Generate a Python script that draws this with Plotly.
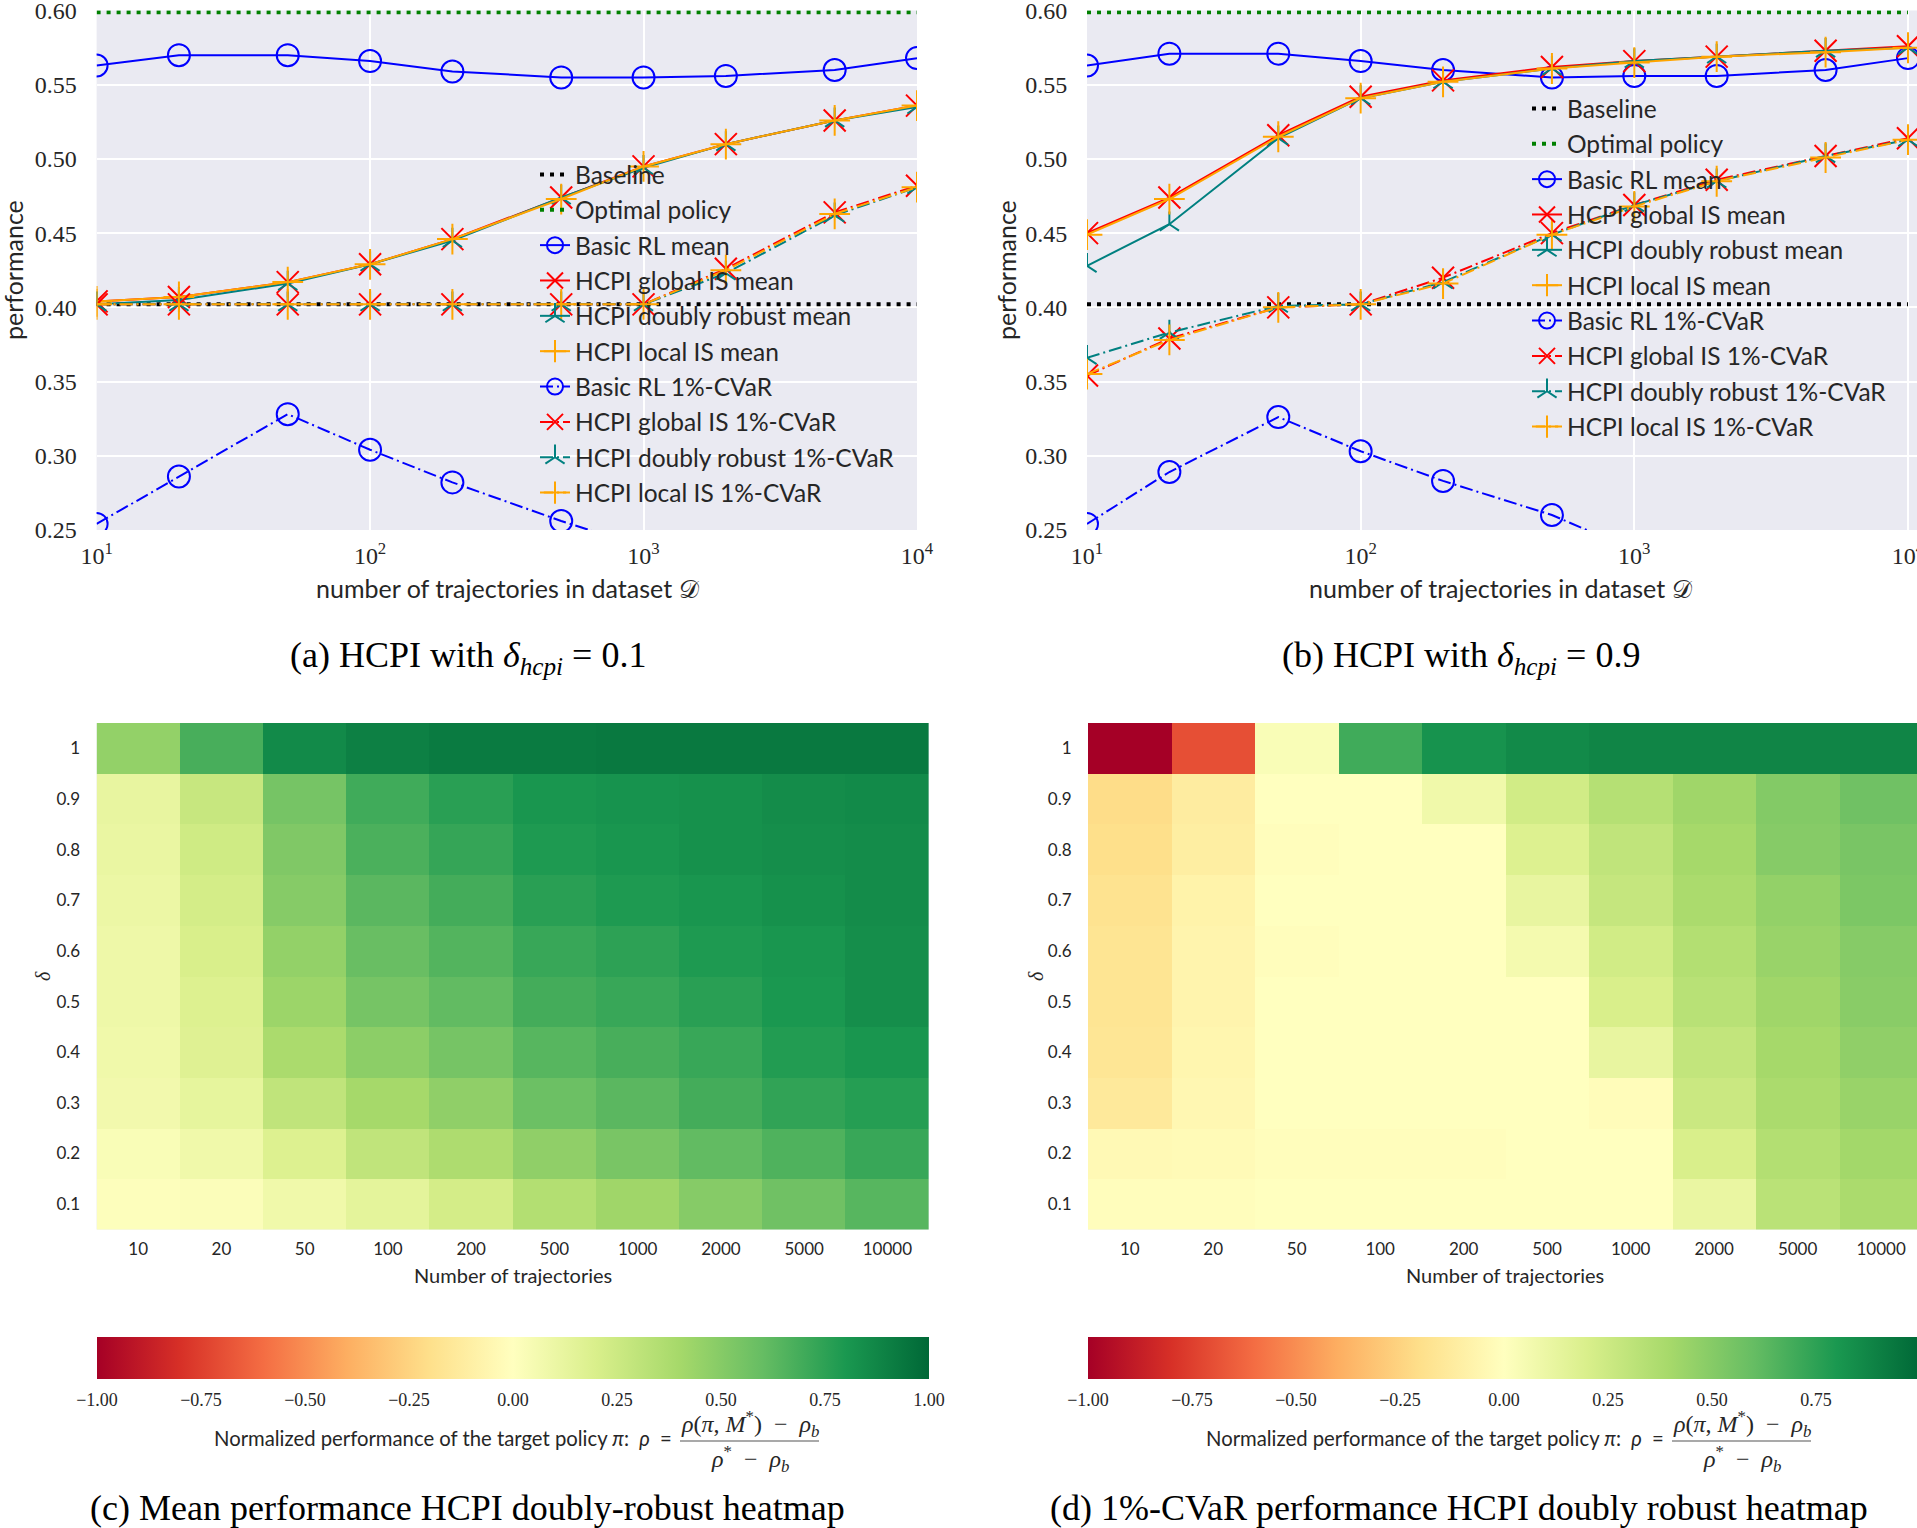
import plotly.graph_objects as go

W, H = 1917, 1528


def fx(p):
    return p / W


def fy(p):
    return 1 - p / H


# ---------------- data ----------------
N = [10, 20, 50, 100, 200, 500, 1000, 2000, 5000, 10000]
N_LABELS = ["10", "20", "50", "100", "200", "500", "1000", "2000", "5000", "10000"]
DELTAS = ["1", "0.9", "0.8", "0.7", "0.6", "0.5", "0.4", "0.3", "0.2", "0.1"]
BASELINE = 0.402
OPTIMAL = 0.599

# panel (a): delta_hcpi = 0.1
a_basic_mean = [0.563, 0.570, 0.570, 0.566, 0.559, 0.555, 0.555, 0.556, 0.560, 0.568]
a_global_mean = [0.404, 0.407, 0.417, 0.429, 0.446, 0.474, 0.495, 0.510, 0.526, 0.536]
a_dr_mean = [0.402, 0.405, 0.416, 0.429, 0.445, 0.474, 0.494, 0.510, 0.526, 0.535]
a_local_mean = [0.404, 0.407, 0.417, 0.429, 0.446, 0.473, 0.495, 0.510, 0.526, 0.536]
a_basic_cvar = [0.254, 0.286, 0.328, 0.304, 0.282, 0.256, 0.238, 0.222, 0.205, 0.195]
a_global_cvar = [0.402, 0.402, 0.402, 0.402, 0.402, 0.402, 0.402, 0.426, 0.464, 0.482]
a_dr_cvar = [0.402, 0.402, 0.402, 0.402, 0.402, 0.402, 0.402, 0.423, 0.462, 0.481]
a_local_cvar = [0.402, 0.402, 0.402, 0.402, 0.402, 0.402, 0.402, 0.425, 0.463, 0.481]

# panel (b): delta_hcpi = 0.9
b_basic_mean = [0.563, 0.571, 0.571, 0.566, 0.560, 0.555, 0.556, 0.556, 0.560, 0.568]
b_global_mean = [0.450, 0.474, 0.516, 0.542, 0.553, 0.562, 0.566, 0.569, 0.573, 0.576]
b_dr_mean = [0.428, 0.456, 0.514, 0.541, 0.552, 0.561, 0.566, 0.569, 0.573, 0.575]
b_local_mean = [0.449, 0.473, 0.515, 0.541, 0.552, 0.561, 0.565, 0.569, 0.572, 0.575]
b_basic_cvar = [0.254, 0.289, 0.326, 0.303, 0.283, 0.260, 0.236, 0.222, 0.205, 0.195]
b_global_cvar = [0.354, 0.379, 0.400, 0.402, 0.420, 0.450, 0.469, 0.486, 0.502, 0.514]
b_dr_cvar = [0.366, 0.383, 0.401, 0.402, 0.417, 0.449, 0.469, 0.485, 0.502, 0.513]
b_local_cvar = [0.355, 0.378, 0.400, 0.402, 0.416, 0.449, 0.468, 0.485, 0.501, 0.513]

# panel (c): mean performance, rows delta = 1 ... 0.1
c_mean = [
    [0.46, 0.68, 0.86, 0.90, 0.92, 0.92, 0.93, 0.93, 0.93, 0.93],
    [0.12, 0.27, 0.55, 0.70, 0.76, 0.81, 0.82, 0.83, 0.85, 0.86],
    [0.11, 0.24, 0.52, 0.67, 0.73, 0.79, 0.81, 0.83, 0.84, 0.85],
    [0.10, 0.22, 0.50, 0.63, 0.69, 0.76, 0.79, 0.81, 0.83, 0.85],
    [0.09, 0.20, 0.46, 0.59, 0.65, 0.72, 0.75, 0.79, 0.81, 0.84],
    [0.09, 0.18, 0.43, 0.55, 0.61, 0.69, 0.72, 0.76, 0.80, 0.84],
    [0.08, 0.17, 0.38, 0.48, 0.55, 0.64, 0.68, 0.72, 0.78, 0.81],
    [0.07, 0.13, 0.30, 0.40, 0.47, 0.58, 0.63, 0.69, 0.74, 0.77],
    [0.03, 0.08, 0.18, 0.30, 0.37, 0.47, 0.54, 0.61, 0.66, 0.72],
    [0.01, 0.02, 0.08, 0.14, 0.22, 0.35, 0.42, 0.50, 0.57, 0.64],
]

# panel (d): 1%-CVaR performance, rows delta = 1 ... 0.1
d_cvar = [
    [-1.00, -0.70, 0.03, 0.70, 0.82, 0.86, 0.88, 0.88, 0.88, 0.88],
    [-0.21, -0.12, 0.00, 0.00, 0.08, 0.23, 0.34, 0.42, 0.51, 0.57],
    [-0.20, -0.11, -0.01, 0.00, 0.00, 0.18, 0.30, 0.40, 0.50, 0.54],
    [-0.18, -0.08, 0.00, 0.00, 0.00, 0.12, 0.28, 0.38, 0.46, 0.53],
    [-0.17, -0.07, -0.01, 0.00, 0.00, 0.06, 0.23, 0.35, 0.44, 0.50],
    [-0.17, -0.07, 0.00, 0.00, 0.00, 0.00, 0.20, 0.33, 0.42, 0.49],
    [-0.16, -0.06, 0.00, 0.00, 0.00, 0.00, 0.12, 0.29, 0.40, 0.47],
    [-0.14, -0.05, 0.00, 0.00, 0.00, 0.00, -0.02, 0.26, 0.38, 0.44],
    [-0.04, -0.03, -0.01, -0.01, -0.01, 0.00, 0.00, 0.20, 0.35, 0.41],
    [-0.01, -0.01, 0.00, 0.00, 0.00, 0.00, 0.00, 0.11, 0.32, 0.38],
]

CB_TICKS = [-1.0, -0.75, -0.5, -0.25, 0.0, 0.25, 0.5, 0.75, 1.0]
CB_LABELS = ["\u22121.00", "\u22120.75", "\u22120.50", "\u22120.25", "0.00", "0.25", "0.50", "0.75", "1.00"]
Y_TICKS = [0.25, 0.30, 0.35, 0.40, 0.45, 0.50, 0.55, 0.60]
X_TICKS = [10, 100, 1000, 10000]
X_TICKTEXT = ["10<sup>1</sup>", "10<sup>2</sup>", "10<sup>3</sup>", "10<sup>4</sup>"]

# ---------------- styles ----------------
TXT = "#262626"
SANS = "Lato, 'Open Sans', sans-serif"
SERIF = "'Liberation Serif', 'DejaVu Serif', serif"
BLUE, RED, TEAL, ORANGE = "#0000ff", "#ff0000", "#008080", "#ffa500"
DASHDOT = "13px,4px,2px,4px"
RDYLGN = [
    [0.0, "rgb(165,0,38)"], [0.1, "rgb(215,48,39)"], [0.2, "rgb(244,109,67)"],
    [0.3, "rgb(253,174,97)"], [0.4, "rgb(254,224,139)"], [0.5, "rgb(255,255,191)"],
    [0.6, "rgb(217,239,139)"], [0.7, "rgb(166,217,106)"], [0.8, "rgb(102,189,99)"],
    [0.9, "rgb(26,152,80)"], [1.0, "rgb(0,104,55)"],
]

fig = go.Figure()


def add_panel(xa, ya, leg, grp, basic_mean, g_mean, dr_mean, l_mean,
              basic_cvar, g_cvar, dr_cvar, l_cvar):
    common = dict(xaxis=xa, yaxis=ya, legend=leg, hoverinfo="skip")
    series = [
        ("Baseline", [BASELINE] * 2, "black", None, "4px,6px", 4, "lines"),
        ("Optimal policy", [OPTIMAL] * 2, "green", None, "4px,6px", 4, "lines"),
        ("Basic RL mean", basic_mean, BLUE, "circle-open", "solid", 2, "lines+markers"),
        ("HCPI global IS mean", g_mean, RED, "x-thin-open", "solid", 2, "lines+markers"),
        ("HCPI doubly robust mean", dr_mean, TEAL, "y-up-open", "solid", 2, "lines+markers"),
        ("HCPI local IS mean", l_mean, ORANGE, "cross-thin-open", "solid", 2, "lines+markers"),
        ("Basic RL 1%-CVaR", basic_cvar, BLUE, "circle-open", DASHDOT, 2, "lines+markers"),
        ("HCPI global IS 1%-CVaR", g_cvar, RED, "x-thin-open", DASHDOT, 2, "lines+markers"),
        ("HCPI doubly robust 1%-CVaR", dr_cvar, TEAL, "y-up-open", DASHDOT, 2, "lines+markers"),
        ("HCPI local IS 1%-CVaR", l_cvar, ORANGE, "cross-thin-open", DASHDOT, 2, "lines+markers"),
    ]
    for i, (name, ys, col, sym, dash, lw, mode) in enumerate(series):
        xs = [N[0], N[-1]] if len(ys) == 2 else N
        kw = dict(x=xs, y=ys, name=name, mode=mode,
                  line=dict(color=col, width=lw, dash=dash),
                  legendgroup=f"{grp}{i}", **common)
        if sym:
            size = 16 if sym.startswith("y") else 22
            kw["marker"] = dict(symbol=sym, size=size, color=col,
                                line=dict(color=col, width=2))
        fig.add_trace(go.Scatter(**kw))


add_panel("x", "y", "legend", "a", a_basic_mean, a_global_mean, a_dr_mean, a_local_mean,
          a_basic_cvar, a_global_cvar, a_dr_cvar, a_local_cvar)
add_panel("x2", "y2", "legend2", "b", b_basic_mean, b_global_mean, b_dr_mean, b_local_mean,
          b_basic_cvar, b_global_cvar, b_dr_cvar, b_local_cvar)


def cbar(cx):
    return dict(orientation="h", x=fx(cx), xanchor="center", y=fy(1337), yanchor="top",
                len=832, lenmode="pixels", thickness=42, thicknessmode="pixels",
                outlinewidth=0, xpad=0, ypad=0,
                tickvals=CB_TICKS, ticktext=CB_LABELS,
                tickfont=dict(family=SERIF, size=18, color=TXT),
                ticks="outside", ticklen=6, tickcolor="rgba(0,0,0,0)")


fig.add_trace(go.Heatmap(z=c_mean, x=N_LABELS, y=DELTAS, xaxis="x3", yaxis="y3",
                         colorscale=RDYLGN, zmin=-1, zmax=1, colorbar=cbar(513),
                         hoverinfo="skip"))
fig.add_trace(go.Heatmap(z=d_cvar, x=N_LABELS, y=DELTAS, xaxis="x4", yaxis="y4",
                         colorscale=RDYLGN, zmin=-1, zmax=1, colorbar=cbar(1504),
                         hoverinfo="skip"))

line_ax = dict(type="log", tickvals=X_TICKS, ticktext=X_TICKTEXT, showgrid=True,
               gridcolor="white", gridwidth=1.6, zeroline=False, showline=False,
               automargin=False, ticklabeloverflow="allow",
               tickfont=dict(family=SERIF, size=24, color=TXT),
               ticks="outside", ticklen=4, tickcolor="rgba(0,0,0,0)")
line_ay = dict(range=[0.2499, 0.6001], tickvals=Y_TICKS, tickformat=".2f", showgrid=True,
               gridcolor="white", gridwidth=1.6, zeroline=False, showline=False,
               automargin=False, ticklabeloverflow="allow",
               tickfont=dict(family=SERIF, size=24, color=TXT),
               ticks="outside", ticklen=14, tickcolor="rgba(0,0,0,0)")
hm_ax = dict(type="category", showgrid=False, zeroline=False, showline=False,
             automargin=False, ticklabeloverflow="allow",
             tickfont=dict(family=SANS, size=17, color=TXT),
             ticks="outside", ticklen=4, tickcolor="rgba(0,0,0,0)")
hm_ay = dict(type="category", showgrid=False, zeroline=False, showline=False,
             autorange="reversed", automargin=False, ticklabeloverflow="allow",
             tickfont=dict(family=SANS, size=17, color=TXT),
             ticks="outside", ticklen=12, tickcolor="rgba(0,0,0,0)")

leg_common = dict(bgcolor="rgba(0,0,0,0)", borderwidth=0, xanchor="left", yanchor="top",
                  font=dict(family=SANS, size=24.5, color=TXT), tracegroupgap=0.5,
                  itemclick=False, itemdoubleclick=False)

fig.update_layout(
    width=W, height=H,
    margin=dict(l=0, r=0, t=0, b=0, autoexpand=False),
    paper_bgcolor="white", plot_bgcolor="#EAEAF2",
    showlegend=True,
    xaxis=dict(domain=[fx(96.6), fx(917)], range=[1, 4], anchor="y", **line_ax),
    yaxis=dict(domain=[fy(530), fy(10.5)], anchor="x", **line_ay),
    xaxis2=dict(domain=[fx(1087), 1.0], range=[1, 4.033], anchor="y2", **line_ax),
    yaxis2=dict(domain=[fy(530), fy(10.5)], anchor="x2", **line_ay),
    xaxis3=dict(domain=[fx(96.6), fx(929)], anchor="y3", **hm_ax),
    yaxis3=dict(domain=[fy(1229.5), fy(723)], anchor="x3", **hm_ay),
    xaxis4=dict(domain=[fx(1088), 1.0], range=[-0.5, 9.43], anchor="y4", **hm_ax),
    yaxis4=dict(domain=[fy(1229.5), fy(723)], anchor="x4", **hm_ay),
    legend=dict(x=fx(535), y=fy(152), **leg_common),
    legend2=dict(x=fx(1527), y=fy(86), **leg_common),
)

ann = []


def text(x, y, s, size, family=SANS, angle=0, color=TXT, xanchor="center"):
    ann.append(dict(x=fx(x), y=fy(y), xref="paper", yref="paper", text=s, showarrow=False,
                    font=dict(family=family, size=size, color=color), textangle=angle,
                    xanchor=xanchor, yanchor="middle"))


text(13, 270, "performance", 25, angle=-90)
text(1006, 270, "performance", 25, angle=-90)
text(507, 588, "number of trajectories in dataset \U0001D49F", 25)
text(1500, 588, "number of trajectories in dataset \U0001D49F", 25)

text(468, 657, "(a) HCPI with <i>\u03b4<sub>hcpi</sub></i> = 0.1", 36, family=SERIF, color="black")
text(1461, 657, "(b) HCPI with <i>\u03b4<sub>hcpi</sub></i> = 0.9", 36, family=SERIF, color="black")
text(467, 1508, "(c) Mean performance HCPI doubly-robust heatmap", 36, family=SERIF, color="black")
text(1459, 1508, "(d) 1%-CVaR performance HCPI doubly robust heatmap", 36, family=SERIF, color="black")

text(513, 1275, "Number of trajectories", 20)
text(1505, 1275, "Number of trajectories", 20)
text(43, 976, "<i>\u03b4</i>", 20, family=SERIF, angle=-90)
text(1036, 976, "<i>\u03b4</i>", 20, family=SERIF, angle=-90)

shapes = []
SP = "\u2002"
for off in (0, 992):
    text(674 + off, 1438,
         "Normalized performance of the target policy <i>\u03c0</i>:" + SP + "<i>\u03c1</i>" + SP + "=",
         20.3, xanchor="right")
    text(750 + off, 1424,
         "<i>\u03c1</i>(<i>\u03c0</i>, <i>M</i><sup>*</sup>)" + SP + "\u2212" + SP + "<i>\u03c1<sub>b</sub></i>",
         24, family=SERIF)
    text(750 + off, 1459, "<i>\u03c1</i><sup>*</sup>" + SP + "\u2212" + SP + "<i>\u03c1<sub>b</sub></i>",
         24, family=SERIF)
    shapes.append(dict(type="line", xref="paper", yref="paper",
                       x0=fx(680 + off), x1=fx(819 + off), y0=fy(1441), y1=fy(1441),
                       line=dict(color="#555555", width=1.2)))

fig.update_layout(annotations=ann, shapes=shapes)

fig.write_html("out.html", config={"displayModeBar": False},
               post_script="document.body.style.margin='0';document.body.style.overflow='hidden';")
